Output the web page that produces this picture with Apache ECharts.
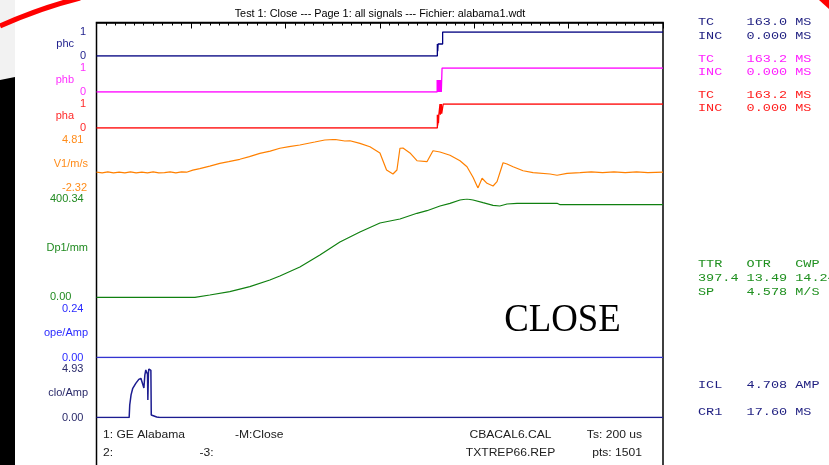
<!DOCTYPE html>
<html><head><meta charset="utf-8">
<script src="https://cdn.jsdelivr.net/npm/echarts@6/dist/echarts.min.js"></script>
<style>html,body{margin:0;padding:0;background:#fff}#c{width:829px;height:465px}</style>
</head><body><div id="c"></div>
<script>
// ---------- data (time in ms; 1501 pts, Ts 200 us) ----------
const timeMax = 300;
const channelNames = ['phc', 'phb', 'pha', 'V1/m/s', 'Dp1/mm', 'ope/Amp', 'clo/Amp'];
const channelMin = [0, 0, 0, -2.32, 0.00, 0.00, 0.00];
const channelMax = [1, 1, 1, 4.81, 400.34, 0.24, 4.93];
const minLabels = ['0', '0', '0', '-2.32', '0.00', '0.00', '0.00'];
const maxLabels = ['1', '1', '1', '4.81', '400.34', '0.24', '4.93'];

const phcT = [0, 180.5, 180.7, 180.9, 181.1, 183.3, 300];
const phcV = [0, 0.5, 0.2, 0.5, 0.5, 1, 1];
const phbT = [0, 180.4, 180.6, 180.8, 181.0, 181.2, 181.4, 181.6, 181.8, 182.0, 182.2, 182.4, 182.6, 182.8, 183.0, 300];
const phbV = [0, 0.5, 0, 0.5, 0, 0.5, 0, 0.5, 0, 0.5, 0, 0.5, 0, 0.5, 1, 1];
const phaT = [0, 180.5, 180.7, 180.9, 181.1, 181.3, 181.9, 182.1, 182.6, 182.8, 183.6, 300];
const phaV = [0, 0.55, 0.1, 0.55, 0.2, 0.55, 1, 0.55, 1, 0.6, 1, 1];

const v1T = [0, 3, 6, 9, 12, 15, 18, 21, 24, 27, 30, 33, 36, 39, 42, 45, 47.7, 51, 54.7, 60, 65.3, 70, 75.9, 81, 86.5, 92, 97.1, 102, 107.7, 115.6, 120.9, 126.3, 131.5, 134.2, 139.5, 144.8, 150.1, 153.6, 157.0, 159.1, 160.7, 162.3, 166.0, 169.7, 175.0, 178.2, 181.9, 187.2, 192.5, 196.2, 199.4, 202.0, 204.2, 206.8, 210.0, 212.1, 215.3, 217.4, 220.6, 225.9, 231.2, 240.2, 243.9, 249.2, 256.1, 262, 268, 274, 280, 286, 292, 300];
const v1V = [0, -0.1, 0.05, -0.1, 0, -0.1, 0.05, -0.1, 0, -0.1, 0.05, -0.1, -0.05, 0.05, -0.1, 0.05, 0, 0.3, 0.52, 0.9, 1.31, 1.55, 1.90, 2.3, 2.78, 3.1, 3.52, 3.75, 4.0, 4.44, 4.74, 4.81, 4.59, 4.63, 4.25, 3.75, 2.83, 0.33, -0.26, 0.33, 3.52, 3.56, 2.83, 1.69, 1.55, 3.16, 2.97, 2.49, 1.69, 0.81, -0.75, -2.32, -0.89, -1.63, -2.03, -1.39, 1.40, 1.21, 0.81, 0.22, -0.07, -0.26, -0.45, -0.16, -0.07, 0.05, -0.05, 0.05, -0.05, 0.05, -0.05, 0];

const dpT = [0, 52.1, 60.0, 70.6, 81.2, 91.8, 97.1, 107.7, 118.3, 128.9, 139.5, 150.1, 160.7, 169.7, 175.0, 181.9, 187.2, 192.5, 196.2, 199.4, 204.7, 210.0, 213.6, 217.4, 222.7, 243.9, 245.5, 300];
const dpV = [0, 0, 9.4, 22.8, 43.2, 70.5, 86.7, 123.4, 172.3, 225.2, 265.9, 302.6, 318.9, 342.1, 352.7, 371.8, 382.8, 396.3, 400.34, 396.3, 385.3, 374.7, 371.8, 380.0, 382.8, 382.8, 377.1, 377.1];

const opeT = [0, 300];
const opeV = [0, 0];

const cloT = [0, 17.3, 17.6, 18.3, 19.2, 20.8, 22.4, 23.5, 24.5, 25.1, 25.6, 26.1, 26.6, 27.0, 27.2, 27.5, 27.7, 28.2, 28.8, 29.0, 29.8, 31.9, 33.5, 43.4, 43.6, 43.8, 151.0, 151.2, 151.4, 300];
const cloV = [0, 0, 1.27, 2.3, 2.97, 3.47, 3.88, 3.98, 4.04, 3.0, 4.3, 4.83, 4.93, 4.4, 1.78, 4.5, 4.93, 4.83, 4.8, 0.25, 0.15, 0.05, 0, 0, 0.12, 0, 0, 0.06, 0, 0];

const titleText = 'Test 1: Close --- Page 1: all signals --- Fichier: alabama1.wdt';
const panelLines = [
  ['TC    163.0 MS', '#1e1e80'], ['INC   0.000 MS', '#1e1e80'],
  ['TC    163.2 MS', '#ff20ff'], ['INC   0.000 MS', '#ff20ff'],
  ['TC    163.2 MS', '#ff2020'], ['INC   0.000 MS', '#ff2020'],
  ['TTR   OTR   CWP', '#209020'], ['397.4 13.49 14.24', '#209020'], ['SP    4.578 M/S', '#209020'],
  ['ICL   4.708 AMP', '#1e1e80'], ['CR1   17.60 MS', '#1e1e80']
];
const footerTexts = [
  ['1: GE Alabama', 'left'], ['-M:Close', 'left'], ['CBACAL6.CAL', 'center'], ['Ts: 200 us', 'right'],
  ['2:', 'left'], ['-3:', 'left'], ['TXTREP66.REP', 'center'], ['pts: 1501', 'right']
];
const bigLabel = 'CLOSE';

// ---------- layout / style ----------
const seriesT = [phcT, phbT, phaT, v1T, dpT, opeT, cloT];
const seriesV = [phcV, phbV, phaV, v1V, dpV, opeV, cloV];
const gridTop = [32, 68, 104, 139.5, 199, 308.5, 369];
const gridH = [24, 24, 24, 48.5, 98.3, 49, 48.5];
const lineColors = ['#000080', '#ff00ff', '#ff0000', '#ff8000', '#108010', '#3434d0', '#1c1c90'];
const labelColors = ['#1e1e8c', '#ff30ff', '#ff2a2a', '#ff8c1a', '#208a20', '#2b2bff', '#2a2a6a'];
const lineWidths = [1.3, 1.3, 1.3, 1.2, 1.2, 1.5, 1.5];
const labelAlign = ['right', 'right', 'right', 'left', 'left', 'left', 'left'];
const labelMargin = [10.5, 10.5, 10.5, 34.5, 46.5, 34.5, 34.5];
const nameGap = [22.5, 22.5, 22.5, 8.5, 8.5, 8.5, 8.5];
const L = 96.5, W = 566.5;
const FONT = 'Liberation Sans, Arial, sans-serif';

const grids = [{ left: L, width: W, top: 22.5, height: 470, show: true, borderColor: '#000', borderWidth: 1.5, outerBoundsMode: 'none' }];
const xAxes = [{
  gridIndex: 0, type: 'value', position: 'top', min: 0, max: timeMax, interval: 50,
  axisLine: { show: true, onZero: false, lineStyle: { color: '#000', width: 1.5 } },
  axisTick: { show: true, inside: true, length: 6, lineStyle: { color: '#000', width: 1 } },
  minorTick: { show: true, splitNumber: 10, length: 3, lineStyle: { color: '#000', width: 1 } },
  axisLabel: { show: false }, splitLine: { show: false }, minorSplitLine: { show: false }
}];
const yAxes = [{ gridIndex: 0, type: 'value', min: 0, max: 1, show: false }];
const series = [{
  type: 'line', xAxisIndex: 0, yAxisIndex: 0, symbol: 'none', silent: true,
  lineStyle: { opacity: 0 }, data: [[0, 0.5], [timeMax, 0.5]]
}];
channelNames.forEach((nm, i) => {
  const gi = i + 1;
  grids.push({ left: L, width: W, top: gridTop[i], height: gridH[i], outerBoundsMode: 'none' });
  xAxes.push({ gridIndex: gi, type: 'value', min: 0, max: timeMax, show: false });
  yAxes.push({
    gridIndex: gi, type: 'value', min: channelMin[i], max: channelMax[i],
    axisLine: { show: false }, axisTick: { show: false }, splitLine: { show: false },
    axisLabel: {
      customValues: [channelMin[i], channelMax[i]],
      formatter: v => (v === channelMax[i] ? maxLabels[i] : minLabels[i]),
      color: labelColors[i], fontSize: 11, fontFamily: FONT,
      align: labelAlign[i], margin: labelMargin[i], padding: [0, 0, 5, 0],
      showMinLabel: true, showMaxLabel: true
    },
    name: nm, nameLocation: 'middle', nameGap: nameGap[i], nameRotate: 0, nameMoveOverlap: false,
    nameTextStyle: { color: labelColors[i], fontSize: 11, fontFamily: FONT, align: 'right', verticalAlign: 'middle', padding: [0, 0, 5, 0] }
  });
  series.push({
    type: 'line', xAxisIndex: gi, yAxisIndex: gi, symbol: 'none', silent: true,
    step: i < 3 ? 'end' : false,
    lineStyle: { color: lineColors[i], width: lineWidths[i] },
    data: seriesT[i].map((t, k) => [t, seriesV[i][k]])
  });
});

const graphic = [
  { type: 'rect', shape: { x: 0, y: 0, width: 15, height: 80 }, style: { fill: '#f2f2f2' }, silent: true },
  { type: 'polygon', shape: { points: [[0, 80], [15, 77], [15, 465], [0, 465]] }, style: { fill: '#000' }, silent: true },
  { type: 'bezierCurve', shape: { x1: 0, y1: 26, cpx1: 40, cpy1: 8, x2: 80, y2: -2 }, style: { stroke: '#ff0000', lineWidth: 5, fill: null }, silent: true },
  { type: 'polygon', shape: { points: [[819, 0], [829, 0], [829, 9]] }, style: { fill: '#ff0000' }, silent: true },
  { type: 'text', x: 380, y: 14, scaleX: 1.085, style: { text: titleText, font: '10px ' + FONT, fill: '#000', align: 'center', verticalAlign: 'middle' } },
  { type: 'text', x: 562.5, y: 320, scaleX: 0.92, style: { text: bigLabel, font: '40px "Liberation Serif", "Times New Roman", serif', fill: '#000', align: 'center', verticalAlign: 'middle' } }
];
const panelY = [22.5, 36, 59, 72, 95, 108.3, 264, 278.3, 292.3, 385, 412.3];
panelLines.forEach((p, k) => {
  graphic.push({ type: 'text', x: 698, y: panelY[k], scaleX: 1.35, style: { text: p[0], font: '10px "Liberation Mono", monospace', fill: p[1], verticalAlign: 'middle' } });
});
const footX = [103, 235, 510.5, 642, 103, 199.5, 510.5, 642];
const footY = [434.5, 434.5, 434.5, 434.5, 453, 453, 453, 453];
footerTexts.forEach((f, k) => {
  graphic.push({ type: 'text', x: footX[k], y: footY[k], scaleX: 1.1, style: { text: f[0], font: '11px ' + FONT, fill: '#202020', align: f[1], verticalAlign: 'middle' } });
});

const chart = echarts.init(document.getElementById('c'), null, { renderer: 'canvas' });
chart.setOption({
  animation: false,
  backgroundColor: '#fff',
  grid: grids, xAxis: xAxes, yAxis: yAxes, series: series, graphic: graphic
});
</script></body></html>
